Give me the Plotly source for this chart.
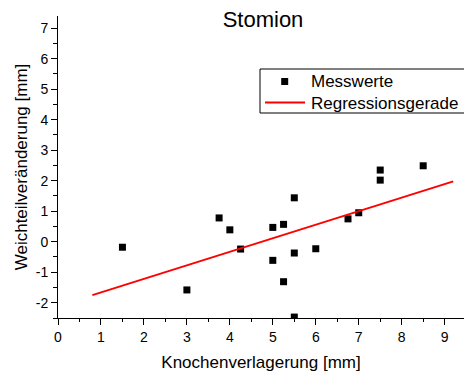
import plotly.graph_objects as go

# Measured data (Knochenverlagerung vs Weichteilveränderung)
x_mess = [1.5, 3.0, 3.75, 4.0, 4.25, 5.0, 5.0, 5.25, 5.25, 5.5, 5.5, 5.5, 6.0, 6.75, 7.0, 7.5, 7.5, 8.5]
y_mess = [-0.18, -1.58, 0.78, 0.39, -0.24, 0.47, -0.61, 0.57, -1.31, 1.44, -0.37, -2.47, -0.23, 0.75, 0.95, 2.35, 2.02, 2.49]

# Regression line endpoints
x_reg = [0.8, 9.2]
y_reg = [-1.75, 1.98]

x_ticks = [0, 1, 2, 3, 4, 5, 6, 7, 8, 9]
y_ticks = [-2, -1, 0, 1, 2, 3, 4, 5, 6, 7]

legend_names = ["Messwerte", "Regressionsgerade"]

FONT = "Liberation Sans, Arial, sans-serif"

W, H = 464, 376
ML, MR, MT, MB = 58, 0, 16, 58
PW, PH = W - ML - MR, H - MT - MB


def px(xp):
    return (xp - ML) / PW


def py(yp):
    return (H - MB - yp) / PH


fig = go.Figure()
fig.add_trace(go.Scatter(
    x=x_mess, y=y_mess, mode="markers", name=legend_names[0],
    marker=dict(symbol="square", size=7, color="black", line=dict(width=0)),
    showlegend=False,
))
fig.add_trace(go.Scatter(
    x=x_reg, y=y_reg, mode="lines", name=legend_names[1],
    line=dict(color="#ff0000", width=2),
    showlegend=False,
))

axis_common = dict(
    showline=True, linecolor="black", linewidth=1,
    showgrid=False, zeroline=False,
    ticks="outside", ticklen=6, tickwidth=1, tickcolor="black",
    tickfont=dict(family=FONT, size=14, color="black"),
    mirror=False,
)

# Legend drawn as a box with sample marks and text
shapes = [
    dict(type="rect", xref="paper", yref="paper",
         x0=px(260), x1=px(480), y0=py(113), y1=py(69),
         line=dict(color="black", width=1), fillcolor="white", layer="above"),
    dict(type="rect", xref="paper", yref="paper",
         x0=px(281.2), x1=px(288.2), y0=py(85), y1=py(78),
         line=dict(width=0), fillcolor="black", layer="above"),
    dict(type="line", xref="paper", yref="paper",
         x0=px(265), x1=px(305), y0=py(102.5), y1=py(102.5),
         line=dict(color="#ff0000", width=2), layer="above"),
]
annotations = [
    dict(text=legend_names[0], xref="paper", yref="paper", x=px(309), y=py(81),
         xanchor="left", yanchor="middle", showarrow=False,
         font=dict(family=FONT, size=17, color="black")),
    dict(text=legend_names[1], xref="paper", yref="paper", x=px(309), y=py(103),
         xanchor="left", yanchor="middle", showarrow=False,
         font=dict(family=FONT, size=17, color="black")),
]

fig.update_layout(
    width=W, height=H,
    margin=dict(l=ML, r=MR, t=MT, b=MB),
    paper_bgcolor="white", plot_bgcolor="white",
    font=dict(family=FONT, color="black"),
    title=dict(text="Stomion", x=263 / W, xanchor="center", y=1 - 19 / H, yanchor="middle",
               font=dict(family=FONT, size=22, color="black")),
    showlegend=False,
    shapes=shapes,
    annotations=annotations,
    xaxis=dict(
        range=[0, 9.45], tickvals=x_ticks, ticktext=[str(v) for v in x_ticks],
        minor=dict(dtick=0.5, tick0=0, ticks="outside", ticklen=3, tickcolor="black", showgrid=False),
        title=dict(text="Knochenverlagerung [mm]", font=dict(family=FONT, size=17, color="black"), standoff=12),
        **axis_common,
    ),
    yaxis=dict(
        range=[-2.5, 7.4], tickvals=y_ticks, ticktext=[str(v) for v in y_ticks],
        minor=dict(dtick=0.5, tick0=0, ticks="outside", ticklen=4, tickcolor="black", showgrid=False),
        title=dict(text="Weichteilveränderung [mm]", font=dict(family=FONT, size=17, color="black"), standoff=3),
        **axis_common,
    ),
)

fig.write_html("out.html")
